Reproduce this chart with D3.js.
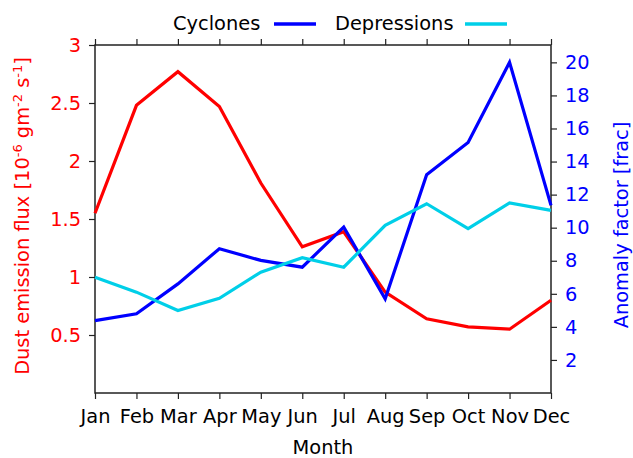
<!DOCTYPE html>
<html>
<head>
<meta charset="utf-8">
<script src="https://cdn.jsdelivr.net/npm/d3@7"></script>
<style>
  body { margin: 0; background: #fff; }
  svg text { font-family: "DejaVu Sans", sans-serif; }
</style>
</head>
<body>
<svg id="chart" width="633" height="458"></svg>
<script>
// chart data
var months = ["Jan", "Feb", "Mar", "Apr", "May", "Jun", "Jul", "Aug", "Sep", "Oct", "Nov", "Dec"];
var dustFlux = [1.55, 2.48, 2.77, 2.47, 1.81, 1.26, 1.39, 0.87, 0.64, 0.57, 0.55, 0.80];
var cyclones = [4.38, 4.79, 6.6, 8.73, 8.02, 7.61, 10.04, 5.7, 13.2, 15.15, 20.0, 11.35];
var depressions = [7.0, 6.1, 4.99, 5.73, 7.31, 8.18, 7.61, 10.14, 11.45, 9.95, 11.5, 11.05];
var leftTicks = [0.5, 1, 1.5, 2, 2.5, 3];
var rightTicks = [2, 4, 6, 8, 10, 12, 14, 16, 18, 20];

var red = "#ff0000", blue = "#0000ff", cyan = "#00cfe8";
var fs = 19.4;

var svg = d3.select("#chart");
var plotL = 95, plotR = 551, plotT = 45, plotB = 393;

var x = d3.scalePoint().domain(months).range([plotL, plotR]);
var yL = d3.scaleLinear().domain([0, 3]).range([plotB, plotT]);
var yR = d3.scaleLinear().domain([0, 21.05]).range([plotB, plotT]);

function styleAxis(g, colour) {
	g.select(".domain").remove();
	g.selectAll(".tick line").attr("stroke", "#222").attr("stroke-width", 1.2);
	g.selectAll(".tick text").attr("fill", colour).style("font-size", fs + "px")
		.style("font-family", "DejaVu Sans, sans-serif");
}

// bottom axis
var gx = svg.append("g").attr("transform", "translate(0," + plotB + ")")
	.call(d3.axisBottom(x).tickSize(6).tickPadding(10));
styleAxis(gx, "#000");
// top ticks only
var gt = svg.append("g").attr("transform", "translate(0," + plotT + ")")
	.call(d3.axisTop(x).tickSize(6).tickFormat(""));
styleAxis(gt, "#000");

var gl = svg.append("g").attr("transform", "translate(" + plotL + ",0)")
	.call(d3.axisLeft(yL).tickValues(leftTicks).tickSize(6).tickPadding(8)
		.tickFormat(function(d) { return String(d); }));
styleAxis(gl, red);

var gr = svg.append("g").attr("transform", "translate(" + plotR + ",0)")
	.call(d3.axisRight(yR).tickValues(rightTicks).tickSize(6).tickPadding(8));
styleAxis(gr, blue);

// frame
svg.append("rect").attr("x", plotL).attr("y", plotT)
	.attr("width", plotR - plotL).attr("height", plotB - plotT)
	.attr("fill", "none").attr("stroke", "#222").attr("stroke-width", 1.5);

// lines
function drawLine(vals, scale, colour) {
	var line = d3.line()
		.x(function(d, i) { return x(months[i]); })
		.y(function(d) { return scale(d); });
	svg.append("path").datum(vals)
		.attr("d", line)
		.attr("fill", "none")
		.attr("stroke", colour)
		.attr("stroke-width", 3.2)
		.attr("stroke-linejoin", "miter");
}
drawLine(dustFlux, yL, red);
drawLine(cyclones, yR, blue);
drawLine(depressions, yR, cyan);

// axis titles
svg.append("text").attr("x", (plotL + plotR) / 2).attr("y", 454)
	.attr("text-anchor", "middle").style("font-size", fs + "px").text("Month");

var lt = svg.append("text")
	.attr("transform", "translate(29,216) rotate(-90)")
	.attr("text-anchor", "middle").attr("fill", red).style("font-size", fs + "px");
lt.append("tspan").text("Dust emission flux [10");
lt.append("tspan").attr("dy", -7).style("font-size", "13px").text("-6");
lt.append("tspan").attr("dy", 7).text(" gm");
lt.append("tspan").attr("dy", -7).style("font-size", "13px").text("-2");
lt.append("tspan").attr("dy", 7).text(" s");
lt.append("tspan").attr("dy", -7).style("font-size", "13px").text("-1");
lt.append("tspan").attr("dy", 7).text("]");

svg.append("text")
	.attr("transform", "translate(628,225) rotate(-90)")
	.attr("text-anchor", "middle").attr("fill", blue).style("font-size", fs + "px")
	.text("Anomaly factor [frac]");

// legend
var legend = [
	{name: "Cyclones", colour: blue, tx: 173, lx: 274},
	{name: "Depressions", colour: cyan, tx: 335, lx: 465}
];
legend.forEach(function(d) {
	svg.append("text").attr("x", d.tx).attr("y", 30).style("font-size", fs + "px").text(d.name);
	svg.append("line").attr("x1", d.lx).attr("x2", d.lx + 42)
		.attr("y1", 24).attr("y2", 24)
		.attr("stroke", d.colour).attr("stroke-width", 3.5);
});
</script>
</body>
</html>
